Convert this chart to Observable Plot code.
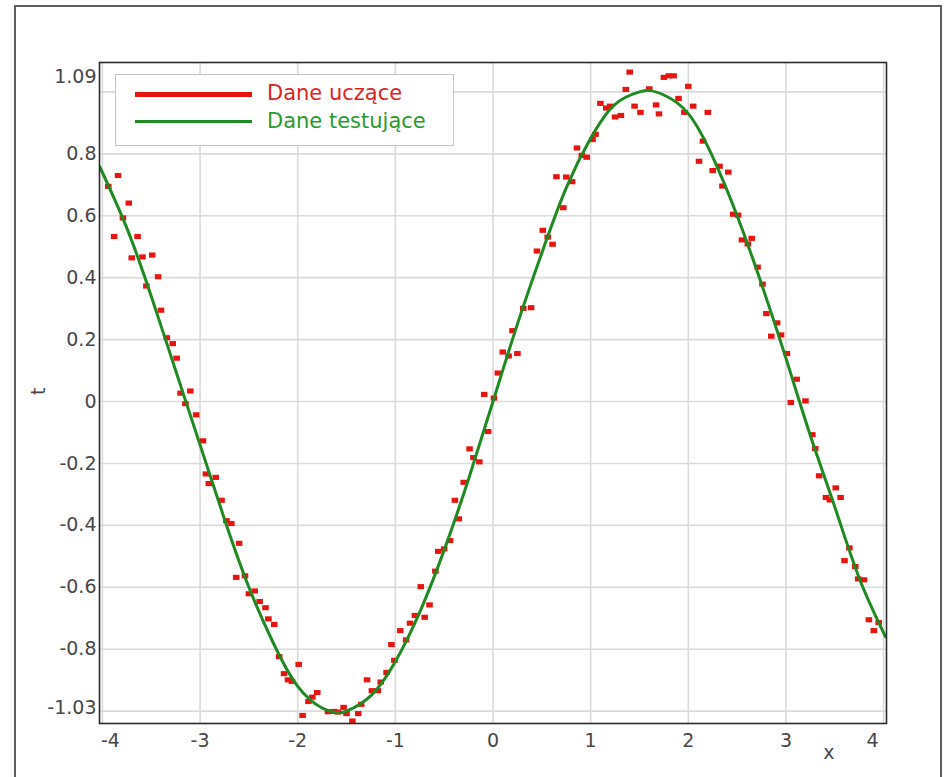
<!DOCTYPE html>
<html>
<head>
<meta charset="utf-8">
<script src="https://cdn.jsdelivr.net/npm/d3@7"></script>
<script src="https://cdn.jsdelivr.net/npm/@observablehq/plot@0.6"></script>
<style>
  html, body { margin: 0; padding: 0; background: #fff; }
  #wrap { position: relative; width: 950px; height: 777px; overflow: hidden; background: #fff; }
  #outer { position: absolute; left: 14px; top: 5px; width: 928px; height: 820px; border: 2px solid #5f5f5f; box-sizing: border-box; }
  #chart { position: absolute; left: 0; top: 0; }
  #legend { position: absolute; left: 115px; top: 74px; width: 339px; height: 72px; box-sizing: border-box;
            border: 1.5px solid #c4c4c4; background: #fff; font-family: "DejaVu Sans", sans-serif; font-size: 21px; }
  .lg-line { position: absolute; left: 19px; width: 117px; }
  .lg-text { position: absolute; left: 151px; line-height: 1; white-space: nowrap; }
</style>
</head>
<body>
<div id="wrap">
  <div id="outer"></div>
  <div id="chart"></div>
  <div id="legend"></div>
</div>
<script>
// ---- Data ----
// Training data (red squares)
const xRed = [-3.94,-3.84,-3.88,-3.79,-3.73,-3.64,-3.70,-3.59,-3.49,-3.43,-3.55,-3.40,-3.34,-3.28,-3.24,-3.20,-3.10,-3.15,-3.04,-2.97,
  -2.94,-2.84,-2.91,-2.78,-2.73,-2.68,-2.60,-2.63,-2.54,-2.50,-2.44,-2.39,-2.33,-2.30,-2.24,-2.19,-2.14,-2.10,-2.06,-1.99,
  -1.95,-1.89,-1.85,-1.80,-1.69,-1.63,-1.59,-1.53,-1.50,-1.44,-1.38,-1.35,-1.29,-1.24,-1.18,-1.15,-1.09,-1.04,-1.01,-0.95,
  -0.89,-0.85,-0.80,-0.74,-0.70,-0.65,-0.59,-0.56,-0.50,-0.44,-0.35,-0.39,-0.30,-0.24,-0.20,-0.14,-0.05,-0.09,0.01,0.05,
  0.10,0.16,0.25,0.20,0.31,0.39,0.45,0.51,0.56,0.61,0.72,0.65,0.75,0.81,0.86,0.91,0.96,1.02,1.05,1.10,
  1.16,1.20,1.25,1.31,1.36,1.40,1.45,1.51,1.60,1.67,1.70,1.75,1.80,1.85,1.90,1.96,2.00,2.05,2.20,2.15,
  2.11,2.25,2.32,2.41,2.35,2.46,2.51,2.55,2.65,2.61,2.71,2.76,2.80,2.91,2.85,2.95,3.01,3.11,3.05,3.20,
  3.27,3.30,3.34,3.41,3.45,3.51,3.56,3.65,3.60,3.71,3.74,3.80,3.85,3.95,3.90];
const tRed = [0.695,0.730,0.533,0.593,0.641,0.533,0.464,0.467,0.473,0.403,0.373,0.295,0.206,0.187,0.140,0.027,0.034,-0.007,-0.043,-0.127,
  -0.234,-0.245,-0.265,-0.319,-0.385,-0.394,-0.458,-0.568,-0.563,-0.621,-0.612,-0.646,-0.666,-0.702,-0.720,-0.824,-0.879,-0.899,-0.904,-0.849,
  -1.014,-0.969,-0.955,-0.940,-1.002,-1.001,-1.003,-0.988,-1.008,-1.032,-1.008,-0.978,-0.899,-0.934,-0.934,-0.906,-0.875,-0.785,-0.836,-0.740,
  -0.770,-0.716,-0.691,-0.598,-0.697,-0.657,-0.548,-0.484,-0.476,-0.449,-0.379,-0.319,-0.261,-0.153,-0.181,-0.195,-0.097,0.023,0.011,0.092,
  0.160,0.147,0.155,0.229,0.301,0.303,0.486,0.553,0.531,0.508,0.626,0.726,0.725,0.710,0.819,0.795,0.789,0.846,0.863,0.963,
  0.948,0.954,0.919,0.924,1.008,1.064,0.954,0.934,1.010,0.958,0.929,1.047,1.052,1.052,0.979,0.934,1.018,0.954,0.934,0.841,
  0.776,0.746,0.760,0.741,0.696,0.605,0.602,0.522,0.527,0.509,0.434,0.379,0.284,0.254,0.211,0.215,0.155,0.072,-0.003,0.002,
  -0.107,-0.152,-0.240,-0.310,-0.318,-0.279,-0.310,-0.473,-0.514,-0.533,-0.573,-0.576,-0.705,-0.714,-0.740];

// Test data (green line)
const xGreen = [-4.03,-3.75,-3.5,-3.25,-3.0,-2.75,-2.5,-2.25,-2.0,-1.75,-1.6,-1.5,-1.25,-1.0,-0.75,-0.5,-0.25,0,0.25,0.5,0.75,1.0,1.25,1.5,1.6,1.75,2.0,2.25,2.5,2.75,3.0,3.25,3.5,3.75,4.02];
const tGreen = [0.76,0.56,0.34,0.10,-0.14,-0.38,-0.60,-0.78,-0.92,-0.99,-1.005,-1.00,-0.95,-0.84,-0.68,-0.48,-0.25,0.0,0.25,0.48,0.69,0.85,0.96,1.00,1.005,0.99,0.93,0.79,0.60,0.38,0.14,-0.11,-0.34,-0.57,-0.76];

// Axis ticks
const xTicks = [-4,-3,-2,-1,0,1,2,3,4];
const yTicks = [-0.8,-0.6,-0.4,-0.2,0,0.2,0.4,0.6,0.8];
const yGrid = [-1,-0.8,-0.6,-0.4,-0.2,0,0.2,0.4,0.6,0.8,1];
const yMaxLabel = 1.09, yMinLabel = -1.03;
const seriesNames = ["Dane uczące", "Dane testujące"];
const axisNames = {x: "x", t: "t"};

// ---- Build tables ----
const redData = xRed.map((x, i) => ({x, t: tRed[i]}));
const greenData = xGreen.map((x, i) => ({x, t: tGreen[i]}));

const RED = "#e8140f", GREEN = "#1f8a22";
const rectSymbol = {
  draw(ctx, size) {
    const r = Math.sqrt(size / Math.PI);
    ctx.rect(-r * 1.15, -r * 0.9, r * 2.3, r * 1.8);
  }
};
const fmt = d => String(d);
const tickStyle = {tickSize: 0, fontSize: 19, fill: "#474747", label: null};

const chart = Plot.plot({
  width: 950, height: 777,
  marginLeft: 99, marginTop: 62, marginRight: 64, marginBottom: 54,
  x: {domain: [-4.03, 4.03]},
  y: {domain: [-1.04, 1.095]},
  style: {fontFamily: "DejaVu Sans, sans-serif", background: "transparent", color: "#474747"},
  marks: [
    Plot.gridX(xTicks, {stroke: "#dadada", strokeOpacity: 1, strokeWidth: 1.6}),
    Plot.gridY(yGrid, {stroke: "#dadada", strokeOpacity: 1, strokeWidth: 1.6}),
    Plot.dot(redData, {x: "x", y: "t", symbol: rectSymbol, r: 2.85, fill: RED, stroke: "none"}),
    Plot.line(greenData, {x: "x", y: "t", stroke: GREEN, strokeWidth: 3, curve: "natural", clip: true}),
    Plot.frame({stroke: "#2a2a2a", strokeWidth: 1.6}),
    Plot.axisX(xTicks.filter(d => Math.abs(d) < 4), {...tickStyle, tickPadding: 10, tickFormat: fmt}),
    Plot.axisX([xTicks[0]], {...tickStyle, tickPadding: 10, tickFormat: fmt, dx: 8}),
    Plot.axisX([xTicks[xTicks.length - 1]], {...tickStyle, tickPadding: 10, tickFormat: fmt, dx: -11}),
    Plot.axisY(yTicks, {...tickStyle, tickPadding: 3, tickFormat: fmt}),
    Plot.axisY([yMaxLabel], {...tickStyle, tickPadding: 3, tickFormat: fmt, dy: 13}),
    Plot.axisY([yMinLabel], {...tickStyle, tickPadding: 3, tickFormat: fmt, dy: -12}),
    Plot.text([axisNames.x], {frameAnchor: "bottom-right", text: d => d, dx: -52, dy: 35, fontSize: 19, fill: "#474747"}),
    Plot.text([axisNames.t], {frameAnchor: "left", text: d => d, dx: -61, dy: 2, rotate: -90, fontSize: 19, fill: "#474747"})
  ]
});
document.getElementById("chart").appendChild(chart);

// ---- Legend ----
const legend = document.getElementById("legend");
const items = [
  {name: seriesNames[0], color: RED, lineTop: 17, thick: 4.5, textTop: 8, textColor: "#e0231f"},
  {name: seriesNames[1], color: GREEN, lineTop: 45, thick: 3.2, textTop: 36, textColor: "#2b9a2e"}
];
for (const it of items) {
  const ln = document.createElement("div");
  ln.className = "lg-line";
  ln.style.top = it.lineTop + "px";
  ln.style.height = it.thick + "px";
  ln.style.background = it.color;
  legend.appendChild(ln);
  const tx = document.createElement("div");
  tx.className = "lg-text";
  tx.style.top = it.textTop + "px";
  tx.style.color = it.textColor;
  tx.textContent = it.name;
  legend.appendChild(tx);
}
</script>
</body>
</html>
